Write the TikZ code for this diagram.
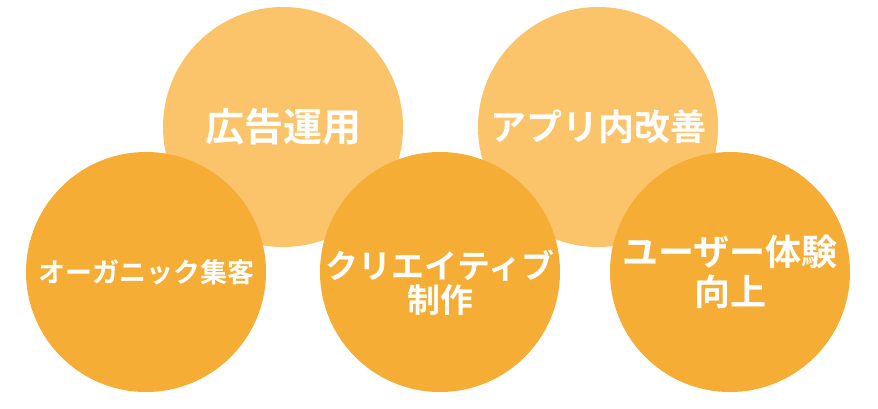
\documentclass[tikz,border=0pt]{standalone}
\usepackage{fontspec}
\newfontfamily\jp{Noto Sans CJK JP}[BoldFont={* Bold}]
\definecolor{lightorange}{HTML}{FCC46A}
\definecolor{darkorange}{HTML}{F5AD35}
\begin{document}
\begin{tikzpicture}[x=1pt,y=-1pt,
  topball/.style={circle,fill=lightorange,minimum size=240pt,inner sep=0pt,text=white,font=\jp\bfseries,align=center},
  lowball/.style={circle,fill=darkorange,minimum size=240pt,inner sep=0pt,text=white,font=\jp\bfseries,align=center}]
\useasboundingbox (0,0) rectangle (878,408);
\node[topball,font=\jp\bfseries\fontsize{39}{44}\selectfont] (ads) at (283,127) {広告運用};
\node[topball,font=\jp\bfseries\fontsize{36}{40}\selectfont] (app) at (598,127) {アプリ内改善};
\node[lowball,font=\jp\bfseries\fontsize{27}{30}\selectfont] (organic) at (146,272) {オーガニック集客};
\node[lowball] (creative) at (440,272) {};
\node[text=white,font=\jp\bfseries\fontsize{33}{34}\selectfont,align=center] (creativetext) at (440,283) {クリエイティブ\\制作};
\node[lowball,font=\jp\bfseries\fontsize{36}{40}\selectfont] (ux) at (730,272) {ユーザー体験\\向上};
\end{tikzpicture}
\end{document}
